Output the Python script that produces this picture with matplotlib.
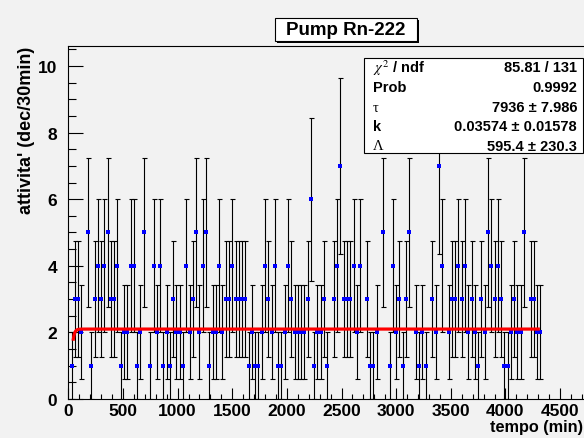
import matplotlib

matplotlib.use("Agg")
import matplotlib.pyplot as plt
import numpy as np
from matplotlib.patches import Rectangle

# --- data: counts per 30-minute bin (empty bins are not drawn) -----------------------------------
BIN_MIN = 30
counts = [
    1, 3, 3, 2, 0, 5, 1, 3, 4, 3, 4, 5, 3, 3, 4, 1, 2, 2, 4, 4,
    1, 2, 5, 0, 1, 4, 2, 4, 1, 2, 1, 3, 2, 2, 1, 4, 2, 3, 5, 2,
    4, 5, 1, 2, 2, 4, 2, 3, 3, 4, 3, 3, 3, 3, 1, 2, 1, 1, 2, 4,
    3, 2, 4, 1, 1, 2, 4, 3, 2, 2, 2, 2, 3, 6, 1, 2, 2, 3, 1, 0,
    3, 4, 7, 3, 3, 3, 4, 2, 4, 0, 3, 1, 1, 2, 0, 5, 0, 1, 4, 2,
    3, 1, 3, 5, 0, 2, 1, 2, 1, 0, 3, 2, 7, 4, 0, 2, 3, 3, 4, 3,
    4, 2, 3, 2, 1, 3, 2, 5, 4, 3, 4, 3, 1, 1, 2, 3, 2, 2, 5, 0,
    3, 3, 2, 2,
]

# fit curve (saturating plateau), drawn over the fit range
FIT_RANGE = (46, 4300)
FIT_PLATEAU, FIT_AMP, FIT_T = 2.1, 4.7, 13.2

stat_labels = [r"$\chi^{2}$ / ndf", "Prob", "τ", "k", "Λ"]
stat_values = ["85.81 / 131", "0.9992", "7936 ± 7.986", "0.03574 ± 0.01578", "595.4 ± 230.3"]

TITLE = "Pump Rn-222"
XLABEL = "tempo (min)"
YLABEL = "attivita' (dec/30min)"

# --- figure -----------------------------------------------------------------------------------------
plt.rcParams["font.family"] = ["Liberation Sans", "DejaVu Sans"]
plt.rcParams["mathtext.fontset"] = "stix"
BG = "#f2f2f2"
W, H = 584, 439


def fx(x):
    return x / W


def fy(y):
    return 1 - y / H


fig = plt.figure(figsize=(W / 100, H / 100), dpi=100, facecolor=BG)
ax = fig.add_axes([fx(68.3), fy(400), 524.6 / W, 353 / H])
ax.set_facecolor(BG)

t = BIN_MIN * np.arange(1, len(counts) + 1)
n = np.array(counts, dtype=float)
mask = n > 0
ax.errorbar(t[mask], n[mask], yerr=np.sqrt(n[mask]), fmt="none", ecolor="black",
            elinewidth=0.8, capsize=1.8, capthick=0.8, zorder=2)
ax.plot(t[mask], n[mask], "s", color="#0000ff", markersize=2.2, markeredgewidth=0, zorder=3)

tf = np.linspace(FIT_RANGE[0], FIT_RANGE[1], 800)
ax.plot(tf, FIT_PLATEAU * (1 - FIT_AMP * np.exp(-tf / FIT_T)), color="red", lw=2.3, zorder=4)

ax.set_xlim(0, 4800)
ax.set_ylim(0, 10.6)
ax.set_xticks(np.arange(0, 4501, 500))
ax.set_xticks(np.arange(0, 4801, 100), minor=True)
ax.set_yticks(np.arange(0, 11, 2))
ax.set_yticks(np.arange(0, 10.6, 0.5), minor=True)
ax.tick_params(axis="both", which="both", direction="in", width=0.8, labelsize=12.5)
ax.tick_params(axis="x", which="major", length=7.6, pad=3)
ax.tick_params(axis="x", which="minor", length=3.8)
ax.tick_params(axis="y", which="major", length=11, pad=8)
ax.tick_params(axis="y", which="minor", length=5.5)
for lab in ax.get_xticklabels() + ax.get_yticklabels():
    lab.set_fontweight("bold")
for s in ax.spines.values():
    s.set_linewidth(0.8)

fig.text(fx(583), fy(428), XLABEL, ha="right", va="center", fontsize=11.7, fontweight="bold")
fig.text(fx(27), fy(47), YLABEL, ha="center", va="top", rotation=90, fontsize=13, fontweight="bold")

# title box with shadow
fig.add_artist(Rectangle((fx(277), fy(44)), 142 / W, 23 / H, transform=fig.transFigure,
                         facecolor="black", edgecolor="none", zorder=5))
fig.add_artist(Rectangle((fx(275), fy(42)), 142 / W, 23 / H, transform=fig.transFigure,
                         facecolor="white", edgecolor="black", lw=0.8, zorder=6))
fig.text(fx(346), fy(30.5), TITLE, ha="center", va="center", fontsize=13.5, fontweight="bold", zorder=7)

# stats box
fig.add_artist(Rectangle((fx(364), fy(154)), 219 / W, 95 / H, transform=fig.transFigure,
                         facecolor="white", edgecolor="black", lw=0.8, zorder=5))
row_y = [68.3, 88.3, 108.3, 127.3, 146.7]
for lab, val, y in zip(stat_labels, stat_values, row_y):
    greek = lab in ("τ", "Λ")
    fig.text(fx(373), fy(y), lab, ha="left", va="center", fontsize=10.5,
             fontweight="normal" if greek else "bold",
             family=["Liberation Serif"] if greek else ["Liberation Sans"], zorder=7)
    fig.text(fx(577), fy(y), val, ha="right", va="center", fontsize=10.5, fontweight="bold", zorder=7)

fig.savefig("out.png", dpi=100, facecolor=BG)
